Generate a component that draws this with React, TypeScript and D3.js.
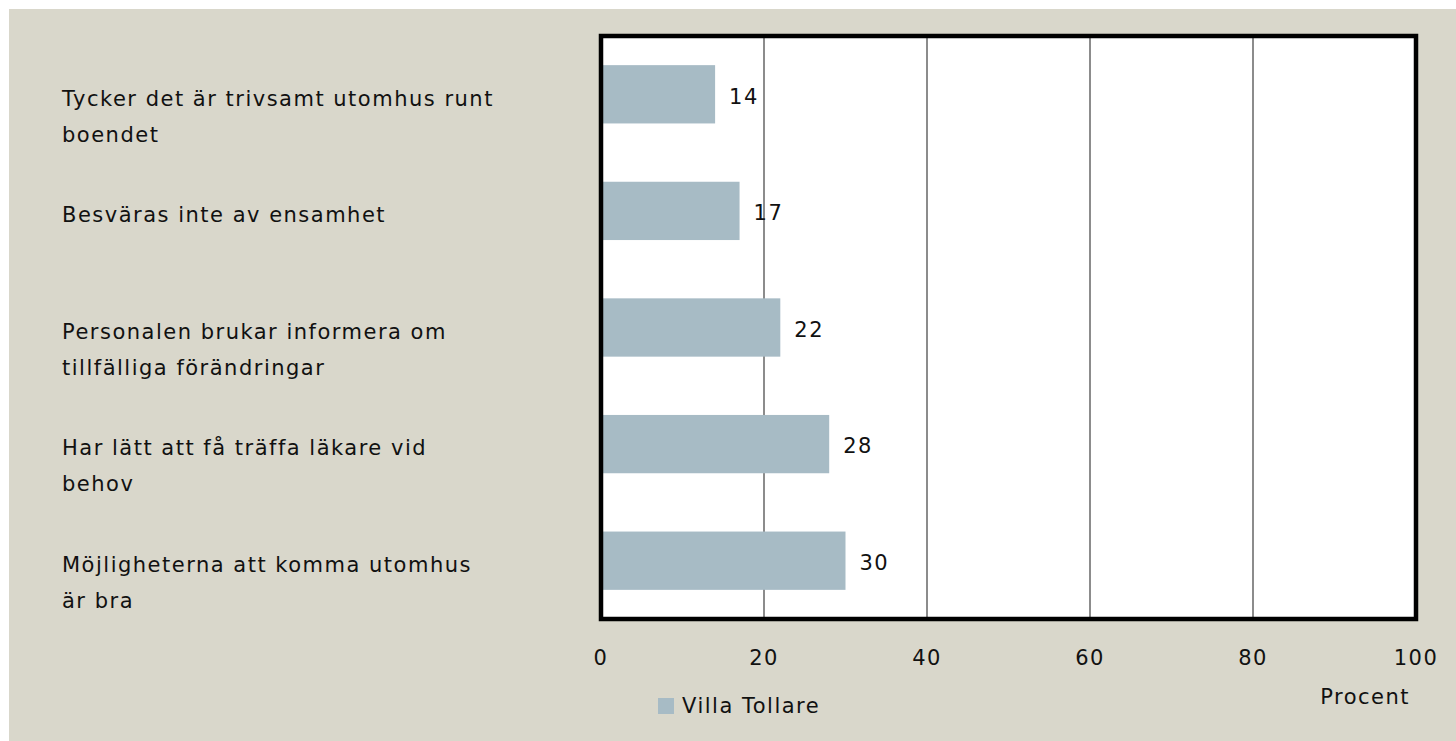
import React from 'react';
import * as d3 from 'd3';

// Survey result, percent per statement
const categories = [
  ['Tycker det är trivsamt utomhus runt', 'boendet'],
  ['Besväras inte av ensamhet'],
  ['Personalen brukar informera om', 'tillfälliga förändringar'],
  ['Har lätt att få träffa läkare vid', 'behov'],
  ['Möjligheterna att komma utomhus', 'är bra'],
];
const values = [14, 17, 22, 28, 30];
const xTicks = [0, 20, 40, 60, 80, 100];
const seriesName = 'Villa Tollare';
const axisTitle = 'Procent';

const W = 1456;
const H = 741;
const FONT = "'DejaVu Sans', 'Open Sans', sans-serif";
const FS = 21;
const LS = 1.5;

export default function App() {
  const margin = { left: 601, right: 40, top: 36, bottom: 122 };
  const plotW = 1416 - margin.left;
  const plotH = 619 - margin.top;

  const x = d3.scaleLinear().domain([0, 100]).range([0, plotW]);
  const y = d3
    .scaleBand<number>()
    .domain(d3.range(values.length))
    .range([0, plotH])
    .paddingInner(0.5)
    .paddingOuter(0.25);

  return (
    <div style={{ position: 'fixed', left: 0, top: 0, width: W, height: H, background: '#fff' }}>
      <svg width={W} height={H} style={{ display: 'block' }} fontFamily={FONT} fontSize={FS} letterSpacing={LS}>
        <rect x={9} y={9} width={W - 9} height={H - 9} fill="#d9d7cb" />
        <g transform={`translate(${margin.left},${margin.top})`}>
          <rect x={0} y={0} width={plotW} height={plotH} fill="#fff" />
          {xTicks.slice(1, -1).map(t => (
            <line key={t} x1={x(t)} x2={x(t)} y1={0} y2={plotH} stroke="#8c8c8c" strokeWidth={2} />
          ))}
          {values.map((v, i) => (
            <g key={i}>
              <rect x={0} y={y(i)} width={x(v)} height={y.bandwidth()} fill="#a7bbc5" />
              <text x={x(v) + 14} y={(y(i) ?? 0) + y.bandwidth() / 2 + 2} dy="0.35em" fill="#111">
                {v}
              </text>
            </g>
          ))}
          <rect x={0} y={0} width={plotW} height={plotH} fill="none" stroke="#000" strokeWidth={4.5} />
          {xTicks.map(t => (
            <text key={t} x={x(t)} y={plotH + 39} dy="0.35em" textAnchor="middle" fill="#111">
              {t}
            </text>
          ))}
          <text x={plotW - 6} y={plotH + 78} dy="0.35em" textAnchor="end" fill="#111">
            {axisTitle}
          </text>
        </g>
        {categories.map((lines, i) => (
          <text key={i} x={62} y={margin.top + (y(i) ?? 0) + y.bandwidth() / 2 + 4} fill="#111">
            {lines.map((l, j) => (
              <tspan key={j} x={62} dy={j === 0 ? '0.35em' : 36}>
                {l}
              </tspan>
            ))}
          </text>
        ))}
        <rect x={658} y={698} width={16} height={16} fill="#a7bbc5" />
        <text x={682} y={706} dy="0.35em" fill="#111">
          {seriesName}
        </text>
      </svg>
    </div>
  );
}
